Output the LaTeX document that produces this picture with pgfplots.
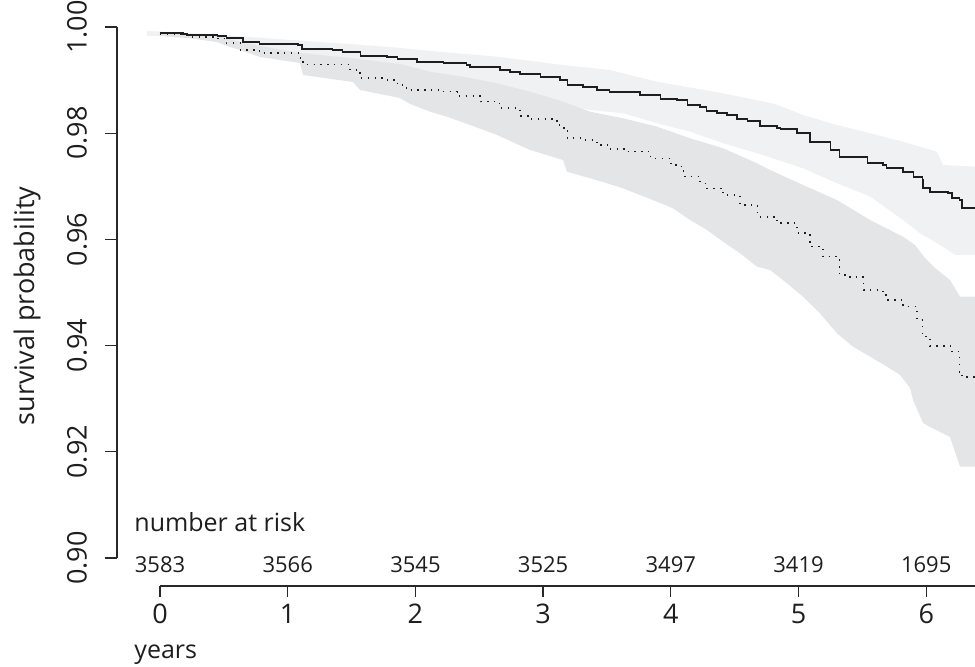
\documentclass[border=0pt]{standalone}
\usepackage{pgfplots}
\pgfplotsset{compat=1.18}
\usepackage{fontspec}
\setmainfont{Open Sans}
\definecolor{bandA}{RGB}{240,241,242}
\definecolor{bandB}{RGB}{228,229,231}
\definecolor{ink}{RGB}{30,30,30}
\definecolor{axcol}{RGB}{40,40,40}
\begin{document}
\begin{tikzpicture}[x=1pt,y=1pt]
\useasboundingbox (0,0) rectangle (487.5,333.5);
% main plotting axis
\begin{axis}[
  at={(58.5pt,54.5pt)}, anchor=south west,
  scale only axis, width=429pt, height=265.5pt,
  xmin=-0.3367, xmax=6.382, ymin=0.90, ymax=1.00,
  axis x line=none, axis y line=left,
  axis line style={-, axcol, line width=0.65pt},
  ytick={0.90,0.92,0.94,0.96,0.98,1.00},
  yticklabels={0.90,0.92,0.94,0.96,0.98,1.00},
  tick align=outside, major tick length=6pt,
  tick style={axcol, line width=0.65pt},
  yticklabel style={rotate=90, anchor=south, font=\fontsize{13.5}{15}\selectfont, text=ink},
  yticklabel shift=5.5pt,
  clip=true,
]
% group 1 confidence band (light)
\addplot[draw=none, fill=bandA] coordinates {
(-0.102,0.99925) (0,0.99915) (0.313,0.99868) (0.705,0.99812) (1.096,0.99742)
(1.488,0.99680) (1.880,0.99605) (2.193,0.99532) (2.639,0.99441) (3.156,0.99284)
(3.524,0.99190) (3.892,0.98970) (4.409,0.98751) (4.816,0.98550) (5.035,0.98343)
(5.301,0.98154) (5.560,0.97998) (5.818,0.97840) (6.085,0.97651) (6.132,0.97401)
(6.382,0.97369)
(6.382,0.95707) (6.225,0.95707) (6.108,0.95895) (5.951,0.96115) (5.818,0.96365)
(5.560,0.96808) (5.301,0.97057) (5.035,0.97339) (4.816,0.97514) (4.675,0.97622)
(4.409,0.97810) (4.150,0.98029) (3.892,0.98187) (3.626,0.98375) (3.367,0.98437)
(3.054,0.98569) (2.662,0.98776) (2.271,0.98964) (1.880,0.99153) (1.488,0.99303)
(1.096,0.99435) (0.705,0.99605) (0.313,0.99774) (0,0.99831) (-0.102,0.99831)
} -- cycle;
% group 2 confidence band (darker)
\addplot[draw=none, fill=bandB] coordinates {
(0,0.99906) (0.235,0.99868) (0.446,0.99831) (0.626,0.99718) (0.783,0.99642)
(1.096,0.99510) (1.488,0.99416) (1.880,0.99303) (2.114,0.99158) (2.373,0.99064)
(2.639,0.98940) (2.897,0.98782) (3.156,0.98593) (3.367,0.98405) (3.626,0.98281)
(3.892,0.98123) (4.150,0.97904) (4.409,0.97716) (4.675,0.97433) (4.777,0.97307)
(5.035,0.97025) (5.301,0.96742) (5.560,0.96365) (5.818,0.96051) (5.912,0.95895)
(5.990,0.95650) (6.069,0.95462) (6.186,0.95235) (6.265,0.94921) (6.382,0.94921)
(6.382,0.91720) (6.265,0.91720) (6.186,0.92279) (6.030,0.92467) (5.975,0.92543)
(5.897,0.92976) (5.873,0.93202) (5.795,0.93447) (5.693,0.93603) (5.560,0.93791)
(5.427,0.93979) (5.301,0.94232) (5.168,0.94608) (5.035,0.94921) (4.910,0.95173)
(4.777,0.95424) (4.675,0.95486) (4.542,0.95738) (4.409,0.95957) (4.283,0.96177)
(4.150,0.96365) (4.017,0.96586) (3.892,0.96710) (3.759,0.96836) (3.626,0.96962)
(3.500,0.97057) (3.367,0.97151) (3.187,0.97275) (3.156,0.97495) (2.897,0.97684)
(2.639,0.97966) (2.428,0.98154) (2.247,0.98311) (2.114,0.98405) (1.958,0.98550)
(1.880,0.98663) (1.566,0.98814) (1.511,0.98964) (1.120,0.99096) (1.096,0.99322)
(0.783,0.99435) (0.626,0.99567) (0.525,0.99642) (0.446,0.99718) (0.211,0.99793)
(0,0.99831)
} -- cycle;
% group 1 survival (solid)
\addplot[const plot, ink, line width=0.85pt] coordinates {
(0,0.99893) (0.18,0.99868) (0.21,0.99849) (0.45,0.99831) (0.52,0.99787)
(0.65,0.99723) (0.78,0.99680) (1.08,0.99661) (1.11,0.99586) (1.35,0.99567)
(1.43,0.99535) (1.53,0.99524) (1.57,0.99460) (1.78,0.99441) (1.86,0.99392)
(2.01,0.99336) (2.22,0.99316) (2.40,0.99284) (2.43,0.99241) (2.66,0.99190)
(2.74,0.99147) (2.82,0.99109) (2.98,0.99064) (3.13,0.99002) (3.19,0.98908)
(3.31,0.98876) (3.42,0.98814) (3.52,0.98782) (3.66,0.98770) (3.76,0.98719)
(3.92,0.98644) (4.05,0.98625) (4.13,0.98531) (4.23,0.98499) (4.28,0.98424)
(4.36,0.98375) (4.44,0.98343) (4.52,0.98267) (4.60,0.98236) (4.70,0.98136)
(4.83,0.98104) (4.86,0.98073) (4.99,0.97998) (5.09,0.97829) (5.25,0.97684)
(5.32,0.97557) (5.43,0.97546) (5.54,0.97444) (5.66,0.97401) (5.69,0.97339)
(5.82,0.97275) (5.90,0.97169) (5.97,0.97119) (5.975,0.96962) (6.03,0.96898)
(6.17,0.96868) (6.20,0.96774) (6.26,0.96742) (6.28,0.96597) (6.40,0.96597)
};
% group 2 survival (dotted)
\addplot[const plot, ink, line width=0.8pt, dash pattern=on 0.7pt off 2.7pt] coordinates {
(0,0.99859) (0.21,0.99817) (0.45,0.99783) (0.52,0.99693) (0.63,0.99567)
(0.78,0.99505) (1.10,0.99411) (1.12,0.99294) (1.49,0.99190) (1.54,0.99128)
(1.57,0.99034) (1.78,0.99002) (1.86,0.98908) (1.93,0.98814) (2.19,0.98782)
(2.33,0.98701) (2.51,0.98593) (2.66,0.98469) (2.82,0.98324) (2.90,0.98267)
(3.11,0.98154) (3.16,0.98092) (3.19,0.97904) (3.31,0.97872) (3.42,0.97778)
(3.52,0.97702) (3.66,0.97652) (3.84,0.97527) (4.00,0.97401) (4.05,0.97369)
(4.10,0.97181) (4.23,0.97056) (4.28,0.96962) (4.41,0.96836) (4.54,0.96648)
(4.68,0.96427) (4.83,0.96303) (4.99,0.96115) (5.09,0.95863) (5.19,0.95675)
(5.32,0.95330) (5.40,0.95286) (5.51,0.95047) (5.66,0.94953) (5.69,0.94859)
(5.82,0.94733) (5.93,0.94482) (5.97,0.94168) (6.03,0.93992) (6.19,0.93885)
(6.26,0.93508) (6.28,0.93403) (6.40,0.93403)
};
\end{axis}
% time axis with number at risk
\begin{axis}[
  at={(80pt,40.5pt)}, anchor=south west,
  scale only axis, width=407.5pt, height=10pt,
  xmin=0, xmax=6.382, ymin=0, ymax=1,
  axis x line=bottom, axis y line=none,
  axis line style={-, axcol, line width=0.65pt},
  xtick={0,1,2,3,4,5,6},
  xticklabels={0,1,2,3,4,5,6},
  tick align=outside, major tick length=5.5pt,
  tick style={axcol, line width=0.65pt},
  xticklabel style={font=\fontsize{13.5}{15}\selectfont, text=ink},
  clip=false,
]
\addplot[draw=none] coordinates {(0,0.5) (6,0.5)};
\node[anchor=base, font=\fontsize{11}{13}\selectfont, text=ink] at (axis cs:0,0.665) {3583};
\node[anchor=base, font=\fontsize{11}{13}\selectfont, text=ink] at (axis cs:1,0.665) {3566};
\node[anchor=base, font=\fontsize{11}{13}\selectfont, text=ink] at (axis cs:2,0.665) {3545};
\node[anchor=base, font=\fontsize{11}{13}\selectfont, text=ink] at (axis cs:3,0.665) {3525};
\node[anchor=base, font=\fontsize{11}{13}\selectfont, text=ink] at (axis cs:4,0.665) {3497};
\node[anchor=base, font=\fontsize{11}{13}\selectfont, text=ink] at (axis cs:5,0.665) {3419};
\node[anchor=base, font=\fontsize{11}{13}\selectfont, text=ink] at (axis cs:6,0.665) {1695};
\end{axis}
\node[anchor=base west, inner sep=0pt, font=\fontsize{12.5}{14}\selectfont, text=ink] at (67,67.75) {number at risk};
\node[anchor=base west, inner sep=0pt, font=\fontsize{12.5}{14}\selectfont, text=ink] at (67,4) {years};
\node[rotate=90, anchor=center, inner sep=0pt, font=\fontsize{13.5}{15}\selectfont, text=ink] at (13.5,180.5) {survival probability};
\end{tikzpicture}
\end{document}
